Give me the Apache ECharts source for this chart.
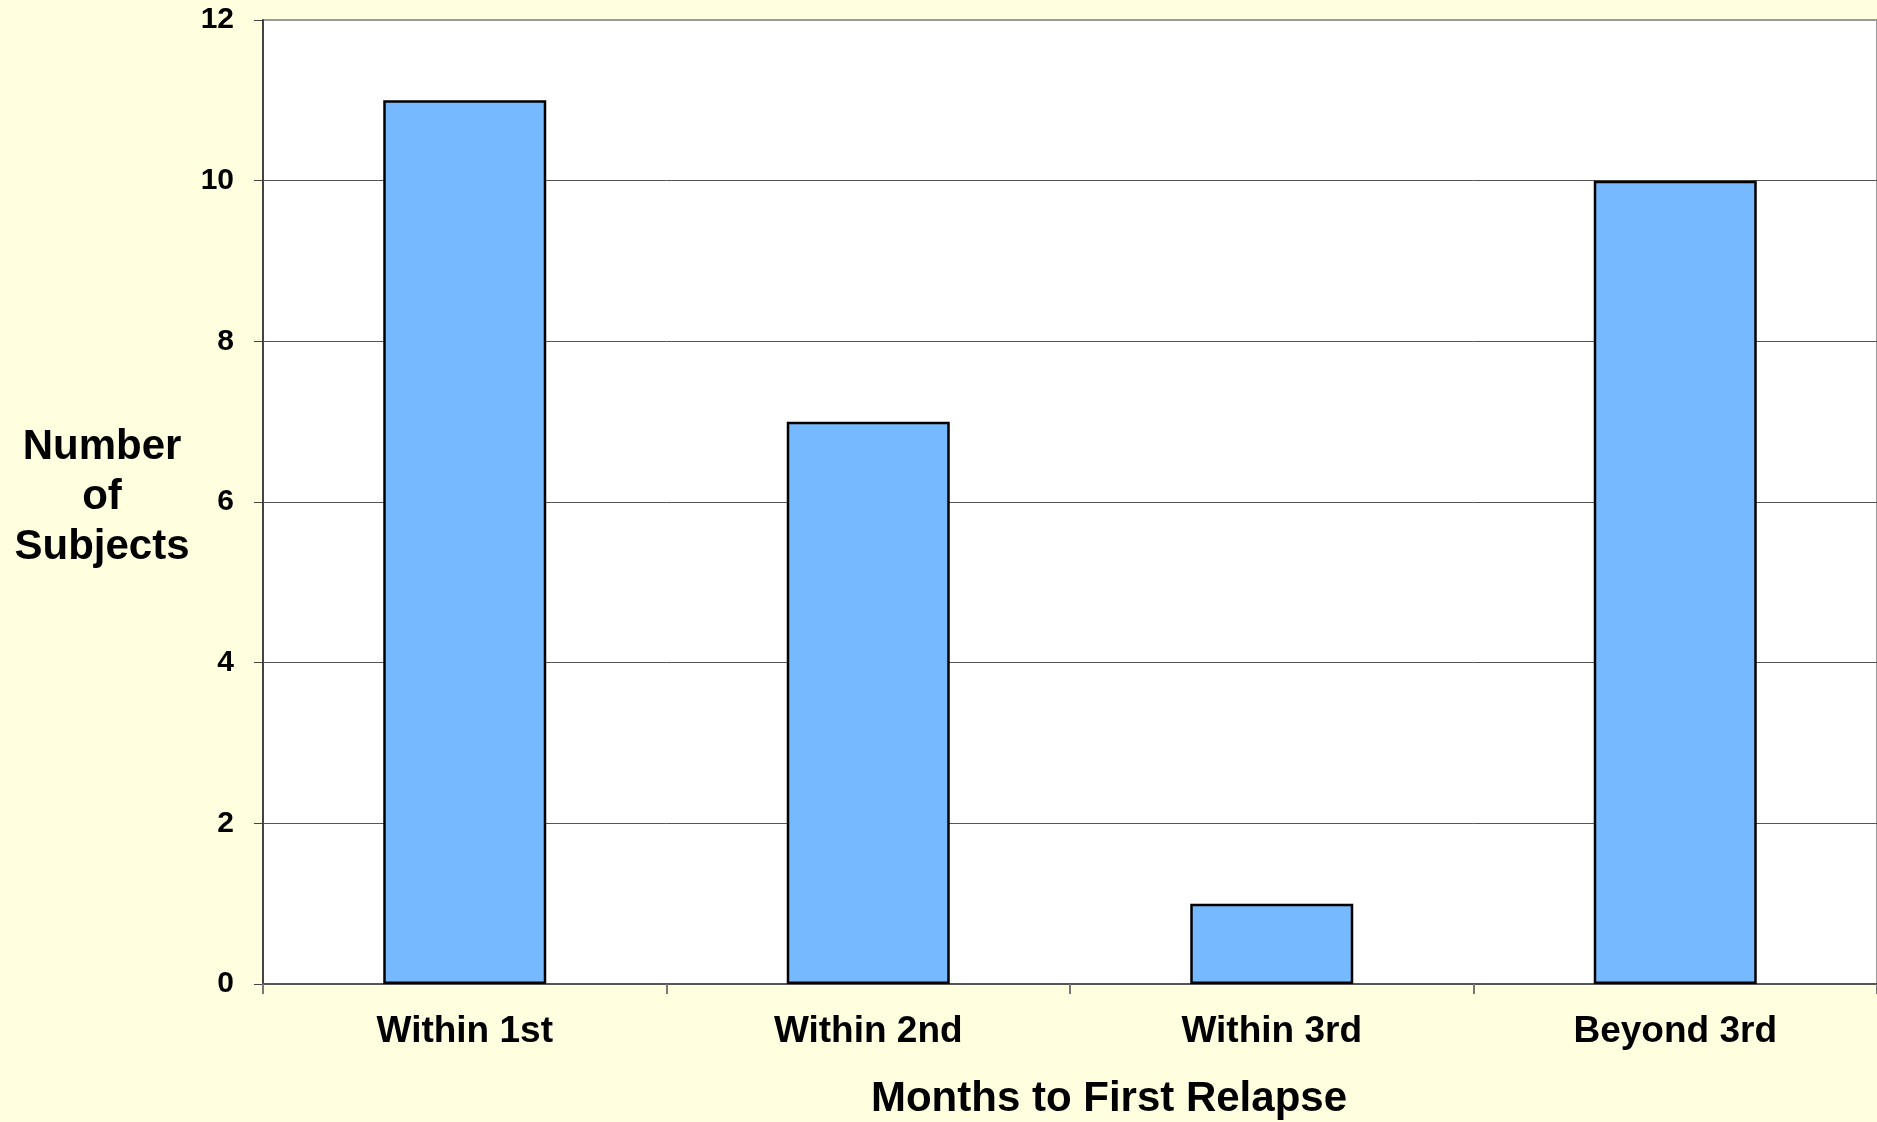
<!DOCTYPE html>
<html>
<head>
<meta charset="utf-8">
<script src="https://cdn.jsdelivr.net/npm/echarts@6/dist/echarts.min.js"></script>
<style>
html,body{margin:0;padding:0;background:#FFFFE0;}
#c{width:1877px;height:1122px;}
</style>
</head>
<body>
<div id="c"></div>
<script>
const categories = ['Within 1st', 'Within 2nd', 'Within 3rd', 'Beyond 3rd'];
const subjects = [11, 7, 1, 10];
const yTicks = [0, 2, 4, 6, 8, 10, 12];
const xTitle = 'Months to First Relapse';
const yTitle = 'Number\nof\nSubjects';

const FONT = '"Liberation Sans", Arial, sans-serif';
const chart = echarts.init(document.getElementById('c'), null, {renderer: 'canvas'});
chart.setOption({
  backgroundColor: '#FFFFE0',
  animation: false,
  grid: {
    left: 263, top: 20, width: 1617, bottom: 138,
    show: true, backgroundColor: '#FFFFFF', borderColor: '#999999', borderWidth: 2
  },
  xAxis: {
    type: 'category',
    data: categories,
    boundaryGap: true,
    axisLine: {show: true, lineStyle: {color: '#555555', width: 2}},
    axisTick: {show: true, alignWithLabel: false, length: 10, lineStyle: {color: '#777777', width: 2}},
    axisLabel: {margin: 29, color: '#000', fontSize: 37, fontWeight: 'bold', fontFamily: FONT},
    splitLine: {show: false}
  },
  yAxis: {
    type: 'value',
    min: yTicks[0], max: yTicks[yTicks.length - 1], interval: 2,
    axisLine: {show: true, lineStyle: {color: '#444444', width: 2}},
    axisTick: {show: true, length: 9, lineStyle: {color: '#444444', width: 1}},
    axisLabel: {margin: 29, color: '#000', fontSize: 30, fontWeight: 'bold', fontFamily: FONT},
    splitLine: {show: true, lineStyle: {color: ['#555555','#555555','#555555','#555555','#555555','#555555','rgba(0,0,0,0)'], width: 1}}
  },
  graphic: [
    {type: 'text', x: 1109, y: 1099, style: {text: xTitle, textAlign: 'center', textVerticalAlign: 'middle', fontSize: 42, fontWeight: 'bold', fontFamily: FONT, fill: '#000'}},
    {type: 'text', x: 102, y: 497, style: {text: yTitle, textAlign: 'center', textVerticalAlign: 'middle', lineHeight: 50, fontSize: 42, fontWeight: 'bold', fontFamily: FONT, fill: '#000'}}
  ],
  series: [{
    type: 'bar',
    data: subjects,
    barWidth: 163,
    itemStyle: {color: '#77B9FE', borderColor: '#000000', borderWidth: 2.5}
  }]
});
</script>
</body>
</html>
